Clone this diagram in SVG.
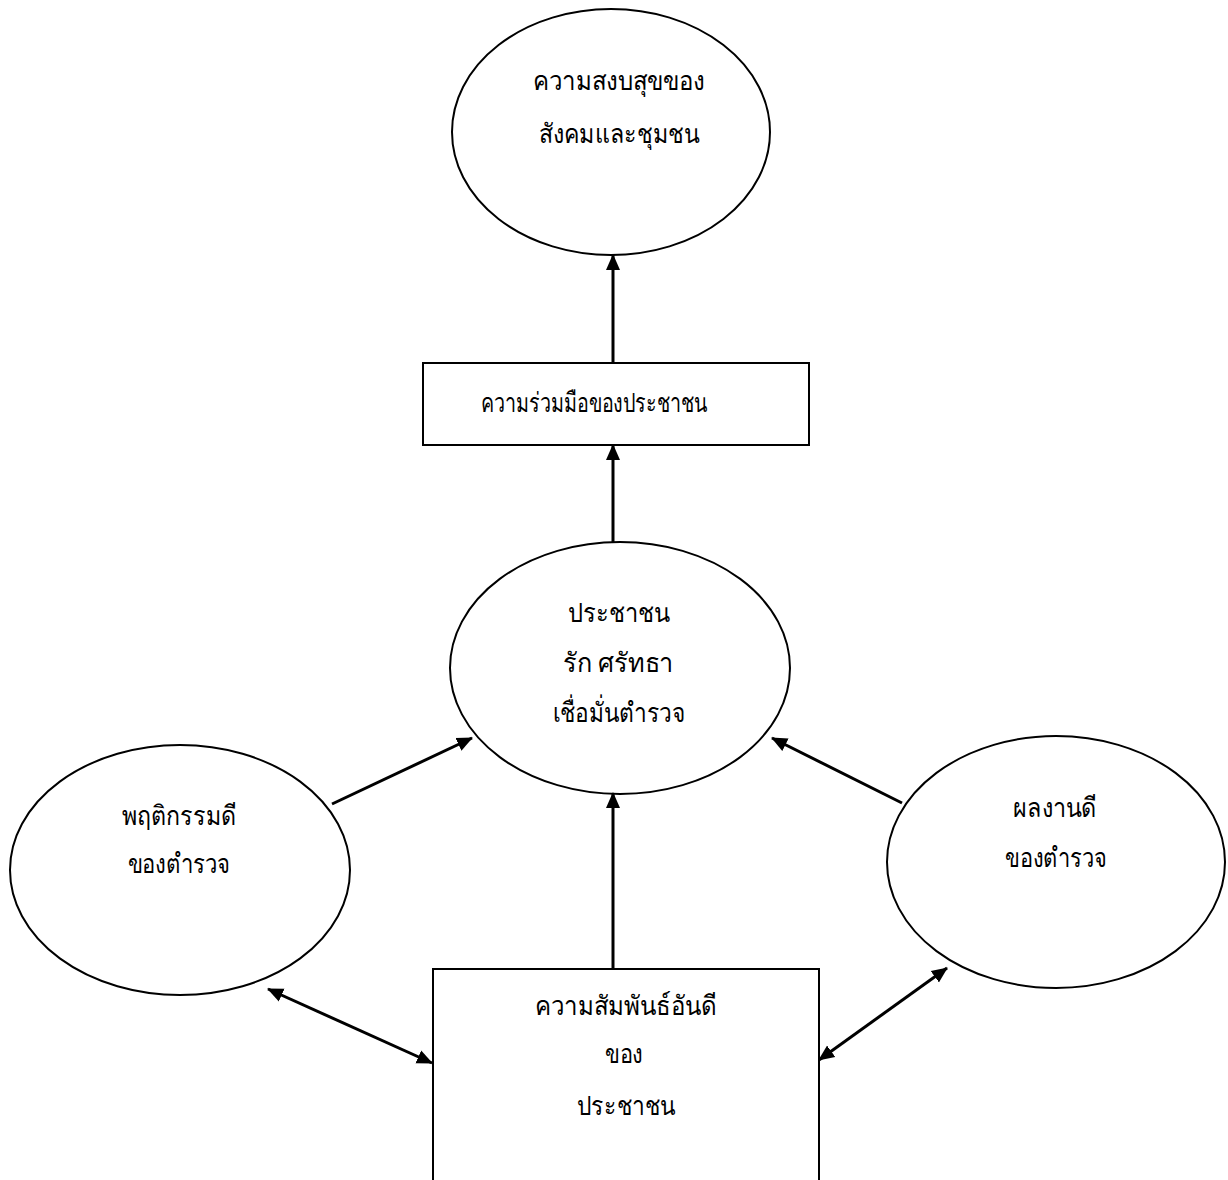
<svg xmlns="http://www.w3.org/2000/svg" width="1228" height="1180" viewBox="0 0 1228 1180">
<style>
.shape{fill:#fff;stroke:#000;stroke-width:2}
.conn line{stroke:#000;stroke-width:3}
text{font-family:"Liberation Serif","DejaVu Serif","Noto Sans",serif;font-size:27px;fill:#000;text-anchor:middle}
</style>
<defs>
<marker id="ah" markerUnits="userSpaceOnUse" markerWidth="16" markerHeight="16" viewBox="0 0 16 16" refX="15" refY="8" orient="auto-start-reverse">
<path d="M0,1 L16,8 L0,15 z" fill="#000"/>
</marker>
</defs>
<rect width="1228" height="1180" fill="#fff"/>
<g id="n-peace">
<ellipse class="shape" cx="611" cy="132" rx="159" ry="123"/>
<text x="619" y="90" textLength="172" lengthAdjust="spacingAndGlyphs">ความสงบสุขของ</text>
<text x="619" y="143" textLength="160" lengthAdjust="spacingAndGlyphs">สังคมและชุมชน</text>
</g>
<g id="n-coop">
<rect class="shape" x="423" y="363" width="386" height="82"/>
<text x="594" y="412" textLength="227" lengthAdjust="spacingAndGlyphs">ความร่วมมือของประชาชน</text>
</g>
<g id="n-trust">
<ellipse class="shape" cx="620" cy="668" rx="170" ry="126"/>
<text x="619" y="622" textLength="102" lengthAdjust="spacingAndGlyphs">ประชาชน</text>
<text x="618" y="672" textLength="111" lengthAdjust="spacingAndGlyphs">รัก ศรัทธา</text>
<text x="619" y="722" textLength="133" lengthAdjust="spacingAndGlyphs">เชื่อมั่นตำรวจ</text>
</g>
<g id="n-behavior">
<ellipse class="shape" cx="180" cy="870" rx="170" ry="125"/>
<text x="179" y="825" textLength="115" lengthAdjust="spacingAndGlyphs">พฤติกรรมดี</text>
<text x="179" y="873" textLength="103" lengthAdjust="spacingAndGlyphs">ของตำรวจ</text>
</g>
<g id="n-performance">
<ellipse class="shape" cx="1056" cy="862" rx="169" ry="126"/>
<text x="1055" y="817" textLength="84" lengthAdjust="spacingAndGlyphs">ผลงานดี</text>
<text x="1056" y="867" textLength="102" lengthAdjust="spacingAndGlyphs">ของตำรวจ</text>
</g>
<g id="n-relation">
<path class="shape" d="M433,1190 L433,969 L819,969 L819,1190"/>
<text x="626" y="1015" textLength="182" lengthAdjust="spacingAndGlyphs">ความสัมพันธ์อันดี</text>
<text x="624" y="1063" textLength="38" lengthAdjust="spacingAndGlyphs">ของ</text>
<text x="626" y="1115" textLength="98" lengthAdjust="spacingAndGlyphs">ประชาชน</text>
</g>
<g class="conn" id="connectors">
<line x1="613" y1="363" x2="613" y2="255" marker-end="url(#ah)"/>
<line x1="613" y1="542" x2="613" y2="445" marker-end="url(#ah)"/>
<line x1="613" y1="969" x2="613" y2="793" marker-end="url(#ah)"/>
<line x1="332" y1="804" x2="472" y2="738" marker-end="url(#ah)"/>
<line x1="902" y1="803" x2="772" y2="738" marker-end="url(#ah)"/>
<line x1="268" y1="989" x2="432" y2="1063" marker-start="url(#ah)" marker-end="url(#ah)"/>
<line x1="819" y1="1060" x2="947" y2="968" marker-start="url(#ah)" marker-end="url(#ah)"/>
</g>
</svg>
